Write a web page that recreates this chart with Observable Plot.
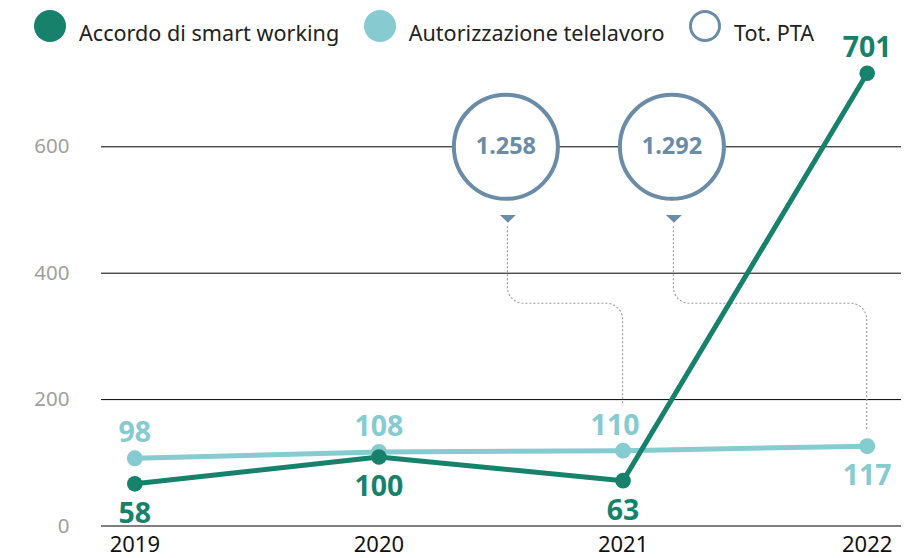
<!DOCTYPE html>
<html>
<head>
<meta charset="utf-8">
<script src="https://cdn.jsdelivr.net/npm/d3@7"></script>
<script src="https://cdn.jsdelivr.net/npm/@observablehq/plot@0.6"></script>
<style>
  body { margin: 0; background: #fff; font-family: "Noto Sans", sans-serif; }
  #wrap { position: relative; width: 909px; height: 558px; overflow: hidden; background: #fff; }
  #wrap svg { position: absolute; left: 0; top: 0; }
  #legend { position: absolute; left: 34px; top: 10px; display: flex; align-items: flex-start; font-size: 21.6px; color: #222; z-index: 5; }
  .item { display: flex; align-items: flex-start; margin-right: 24.5px; }
  .sw { width: 32px; height: 32px; border-radius: 50%; box-sizing: border-box; flex: none; }
  .lab { margin-left: 13px; line-height: 30px; position: relative; top: 7.5px; white-space: nowrap; }
</style>
</head>
<body>
<div id="wrap"><div id="legend"></div></div>
<script>
// ---------- data ----------
const years = [2019, 2020, 2021, 2022];
const smartWorking = [58, 100, 63, 701];      // Accordo di smart working
const telelavoro = [98, 108, 110, 117];       // Autorizzazione telelavoro
const totPTAYears = [2021, 2022];
const totPTA = [1258, 1292];                  // Tot. PTA
const yTicks = [0, 200, 400, 600];
const legendLabels = ["Accordo di smart working", "Autorizzazione telelavoro", "Tot. PTA"];

// ---------- layout / style ----------
const smartSide = [1, 1, 1, -1];   // +1 label below point, -1 above
const teleSide = [-1, -1, -1, 1];
const teleDx = [0, 0, -8, 0];
const bubbleAt = [2020.52, 2021.2]; // horizontal placement of the Tot. PTA bubbles
const GREEN = "#17826b", TEAL = "#85cbd0", SLATE = "#6b8ca6";
const W = 909, H = 558;
const xDomain = [years[0], years[years.length - 1]];
const xRange = [134.3, 866.7];

const smart = years.map((year, i) => ({year, value: smartWorking[i], side: smartSide[i], dx: 0}));
const tele = years.map((year, i) => ({year, value: telelavoro[i], side: teleSide[i], dx: teleDx[i]}));
const tot = totPTAYears.map((year, i) => {
  const j = years.indexOf(year);
  return {year, value: totPTA[i], at: bubbleAt[i], target: telelavoro[j], targetSide: teleSide[j]};
});

// ---------- legend ----------
const legendStyles = [
  `background:${GREEN}`,
  `background:${TEAL}`,
  `background:#fff;border:3px solid ${SLATE}`
];
const legend = d3.select("#legend");
legendLabels.forEach((t, i) => {
  const it = legend.append("div").attr("class", "item");
  it.append("div").attr("class", "sw").attr("style", legendStyles[i]);
  it.append("div").attr("class", "lab").text(t);
});

// ---------- data layer ----------
const labelMarks = (rows, color) => rows.map(d => Plot.text([d], {
  x: "year", y: "value", text: r => String(r.value),
  fill: color, fontSize: 28.5, fontWeight: 700,
  dx: d.dx, dy: d.side < 0 ? -25 : 30
}));

const dataPlot = Plot.plot({
  width: W, height: H,
  style: {background: "transparent", fontFamily: "Noto Sans", overflow: "visible"},
  x: {domain: xDomain, range: xRange, axis: null},
  y: {domain: [0, 600], range: [520.4, 137.2], axis: null},
  marks: [
    Plot.line(tele, {x: "year", y: "value", stroke: TEAL, strokeWidth: 5}),
    Plot.dot(tele, {x: "year", y: "value", r: 8, fill: TEAL}),
    Plot.line(smart, {x: "year", y: "value", stroke: GREEN, strokeWidth: 5}),
    Plot.dot(smart, {x: "year", y: "value", r: 7.8, fill: GREEN}),
    ...labelMarks(tele, TEAL),
    ...labelMarks(smart, GREEN)
  ]
});
const dScale = dataPlot.scale("y");
const dataY = v => dScale.apply ? dScale.apply(v) : d3.scaleLinear(dScale.domain, dScale.range)(v);

// ---------- grid / annotation layer ----------
const fmt = d3.formatLocale({decimal: ",", thousands: ".", grouping: [3], currency: ["€", ""]}).format(",d");
const yTop = d3.max(yTicks);
const downTri = {
  draw(ctx) { ctx.moveTo(-8, -3.9); ctx.lineTo(8, -3.9); ctx.lineTo(0, 3.9); ctx.closePath(); }
};

const connectors = (index, scales) => {
  const g = d3.create("svg:g")
    .attr("fill", "none").attr("stroke", "#9a9a9a")
    .attr("stroke-width", 1.1).attr("stroke-dasharray", "2,2");
  for (const d of tot) {
    const x0 = scales.x(d.at) + 2, yc = scales.y(yTop);
    const y0 = yc + 80, ym = yc + 157;
    const xt = scales.x(d.year);
    const yt = dataY(d.target) - (d.targetSide < 0 ? 45 : 16);
    const p = d3.path();
    p.moveTo(x0, y0);
    p.arcTo(x0, ym, xt, ym, 16);
    p.arcTo(xt, ym, xt, yt, 16);
    p.lineTo(xt, yt);
    g.append("path").attr("d", p.toString());
  }
  return g.node();
};

const gridPlot = Plot.plot({
  width: W, height: H,
  marginLeft: 101, marginRight: 8, marginTop: 0, marginBottom: 32.5,
  style: {background: "#fff", fontFamily: "Noto Sans"},
  x: {domain: xDomain, range: xRange},
  y: {domain: [0, 600], range: [525.5, 146.3]},
  marks: [
    Plot.ruleY(yTicks, {stroke: "#000", strokeWidth: 1}),
    Plot.axisY(yTicks, {tickSize: 0, tickPadding: 32, fontSize: 20.5, color: "#a0a0a0", label: null, tickFormat: d => String(d)}),
    Plot.axisX(years, {tickSize: 0, tickPadding: 10, fontSize: 22, color: "#111", label: null, tickFormat: d => String(d)}),
    connectors,
    Plot.dot(tot, {x: "at", y: () => yTop, r: 52, fill: "#fff", stroke: SLATE, strokeWidth: 4}),
    Plot.text(tot, {x: "at", y: () => yTop, text: d => fmt(d.value), fill: SLATE, fontSize: 23.5, fontWeight: 700}),
    Plot.dot(tot, {x: "at", y: () => yTop, dy: 72, dx: 2, symbol: downTri, r: 5, fill: SLATE})
  ]
});

const wrap = document.getElementById("wrap");
wrap.insertBefore(dataPlot, wrap.firstChild);
wrap.insertBefore(gridPlot, wrap.firstChild);
</script>
</body>
</html>
